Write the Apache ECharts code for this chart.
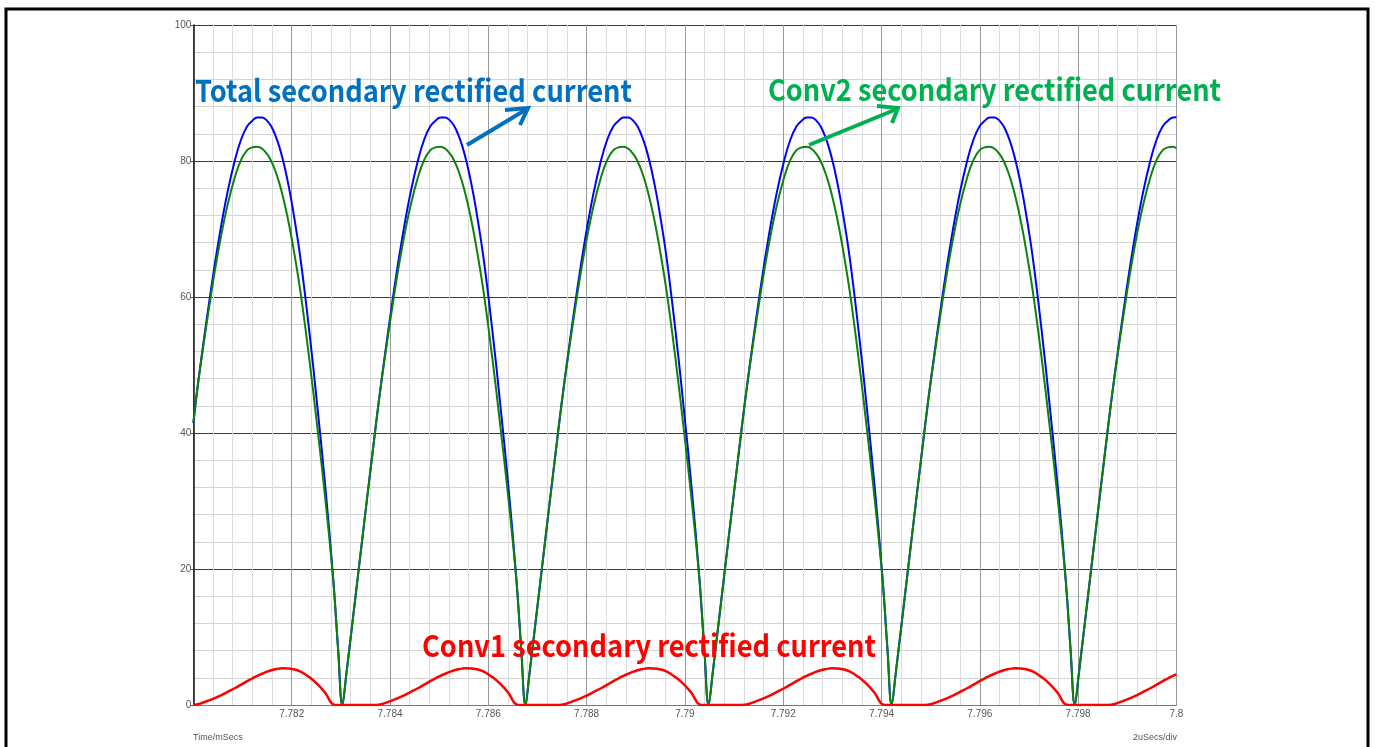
<!DOCTYPE html>
<html>
<head>
<meta charset="utf-8">
<script src="https://cdn.jsdelivr.net/npm/echarts@6/dist/echarts.min.js"></script>
<style>
html,body{margin:0;padding:0;background:#fff;}
#chart{width:1375px;height:747px;}
</style>
</head>
<body>
<div id="chart"></div>
<script>
// Time axis (ms)
const timeMs = [
  7.780000,
  7.780118, 7.780362, 7.780525, 7.780688, 7.780850, 7.780972, 7.781094, 7.781196, 7.781298, 7.781400, 7.781501, 7.781583, 7.781664, 7.781746, 7.781827, 7.781908, 7.782010, 7.782173, 7.782356, 7.782519, 7.782681, 7.782844, 7.782946,
  7.783030, 7.783111, 7.783356, 7.783701, 7.783844, 7.784088, 7.784251, 7.784414, 7.784576, 7.784698, 7.784820, 7.784922, 7.785024, 7.785126, 7.785227, 7.785309, 7.785390, 7.785472, 7.785553, 7.785634, 7.785736, 7.785899, 7.786082, 7.786245, 7.786407, 7.786570, 7.786672,
  7.786755, 7.786836, 7.787081, 7.787426, 7.787569, 7.787813, 7.787976, 7.788139, 7.788301, 7.788423, 7.788545, 7.788647, 7.788749, 7.788851, 7.788952, 7.789034, 7.789115, 7.789197, 7.789278, 7.789359, 7.789461, 7.789624, 7.789807, 7.789970, 7.790132, 7.790295, 7.790397,
  7.790481, 7.790562, 7.790807, 7.791152, 7.791295, 7.791539, 7.791702, 7.791865, 7.792027, 7.792149, 7.792271, 7.792373, 7.792475, 7.792577, 7.792678, 7.792760, 7.792841, 7.792923, 7.793004, 7.793085, 7.793187, 7.793350, 7.793533, 7.793696, 7.793858, 7.794021, 7.794123,
  7.794206, 7.794287, 7.794532, 7.794877, 7.795020, 7.795264, 7.795427, 7.795590, 7.795752, 7.795874, 7.795996, 7.796098, 7.796200, 7.796302, 7.796403, 7.796485, 7.796566, 7.796648, 7.796729, 7.796810, 7.796912, 7.797075, 7.797258, 7.797421, 7.797583, 7.797746, 7.797848,
  7.797932, 7.798013, 7.798258, 7.798603, 7.798746, 7.798990, 7.799153, 7.799316, 7.799478, 7.799600, 7.799722, 7.799824, 7.799926,
  7.800000
];
// Total secondary rectified current (blue)
const totalCurrent = [
  41.5,
  48.65, 61.3, 68.8, 75.2, 80.3, 83.2, 85.1, 85.9, 86.4, 86.4, 85.9, 85.1, 83.85, 82.15, 80, 77.4, 73.5, 65.95, 55.1, 44.1, 32.3, 18.6, 8,
  0, 4.5, 19.5, 40.5, 48.65, 61.3, 68.8, 75.2, 80.3, 83.2, 85.1, 85.9, 86.4, 86.4, 85.9, 85.1, 83.85, 82.15, 80, 77.4, 73.5, 65.95, 55.1, 44.1, 32.3, 18.6, 8,
  0, 4.5, 19.5, 40.5, 48.65, 61.3, 68.8, 75.2, 80.3, 83.2, 85.1, 85.9, 86.4, 86.4, 85.9, 85.1, 83.85, 82.15, 80, 77.4, 73.5, 65.95, 55.1, 44.1, 32.3, 18.6, 8,
  0, 4.5, 19.5, 40.5, 48.65, 61.3, 68.8, 75.2, 80.3, 83.2, 85.1, 85.9, 86.4, 86.4, 85.9, 85.1, 83.85, 82.15, 80, 77.4, 73.5, 65.95, 55.1, 44.1, 32.3, 18.6, 8,
  0, 4.5, 19.5, 40.5, 48.65, 61.3, 68.8, 75.2, 80.3, 83.2, 85.1, 85.9, 86.4, 86.4, 85.9, 85.1, 83.85, 82.15, 80, 77.4, 73.5, 65.95, 55.1, 44.1, 32.3, 18.6, 8,
  0, 4.5, 19.5, 40.5, 48.65, 61.3, 68.8, 75.2, 80.3, 83.2, 85.1, 85.9, 86.4,
  86.45
];
// Conv2 secondary rectified current (green)
const conv2Current = [
  41.5,
  48.5, 60.5, 67.5, 73.3, 77.8, 80.2, 81.6, 82.0, 82.1, 81.8, 81.0, 80.0, 78.6, 76.8, 74.6, 72.0, 68.2, 61, 51, 41, 30.5, 18.5, 8,
  0, 4.5, 19.5, 40.5, 48.5, 60.5, 67.5, 73.3, 77.8, 80.2, 81.6, 82.0, 82.1, 81.8, 81.0, 80.0, 78.6, 76.8, 74.6, 72.0, 68.2, 61, 51, 41, 30.5, 18.5, 8,
  0, 4.5, 19.5, 40.5, 48.5, 60.5, 67.5, 73.3, 77.8, 80.2, 81.6, 82.0, 82.1, 81.8, 81.0, 80.0, 78.6, 76.8, 74.6, 72.0, 68.2, 61, 51, 41, 30.5, 18.5, 8,
  0, 4.5, 19.5, 40.5, 48.5, 60.5, 67.5, 73.3, 77.8, 80.2, 81.6, 82.0, 82.1, 81.8, 81.0, 80.0, 78.6, 76.8, 74.6, 72.0, 68.2, 61, 51, 41, 30.5, 18.5, 8,
  0, 4.5, 19.5, 40.5, 48.5, 60.5, 67.5, 73.3, 77.8, 80.2, 81.6, 82.0, 82.1, 81.8, 81.0, 80.0, 78.6, 76.8, 74.6, 72.0, 68.2, 61, 51, 41, 30.5, 18.5, 8,
  0, 4.5, 19.5, 40.5, 48.5, 60.5, 67.5, 73.3, 77.8, 80.2, 81.6, 82.0, 82.1,
  81.9
];
// Conv1 secondary rectified current (red)
const conv1Current = [
  0,
  0.15, 0.8, 1.3, 1.9, 2.5, 3.0, 3.5, 3.9, 4.3, 4.6, 4.9, 5.1, 5.25, 5.35, 5.4, 5.38, 5.3, 4.95, 4.1, 3.1, 1.8, 0.1, 0,
  0, 0, 0, 0, 0.15, 0.8, 1.3, 1.9, 2.5, 3.0, 3.5, 3.9, 4.3, 4.6, 4.9, 5.1, 5.25, 5.35, 5.4, 5.38, 5.3, 4.95, 4.1, 3.1, 1.8, 0.1, 0,
  0, 0, 0, 0, 0.15, 0.8, 1.3, 1.9, 2.5, 3.0, 3.5, 3.9, 4.3, 4.6, 4.9, 5.1, 5.25, 5.35, 5.4, 5.38, 5.3, 4.95, 4.1, 3.1, 1.8, 0.1, 0,
  0, 0, 0, 0, 0.15, 0.8, 1.3, 1.9, 2.5, 3.0, 3.5, 3.9, 4.3, 4.6, 4.9, 5.1, 5.25, 5.35, 5.4, 5.38, 5.3, 4.95, 4.1, 3.1, 1.8, 0.1, 0,
  0, 0, 0, 0, 0.15, 0.8, 1.3, 1.9, 2.5, 3.0, 3.5, 3.9, 4.3, 4.6, 4.9, 5.1, 5.25, 5.35, 5.4, 5.38, 5.3, 4.95, 4.1, 3.1, 1.8, 0.1, 0,
  0, 0, 0, 0, 0.15, 0.8, 1.3, 1.9, 2.5, 3.0, 3.5, 3.9, 4.3,
  4.5
];
const yTicks = [0, 20, 40, 60, 80, 100];
const xTickLabels = ['7.782', '7.784', '7.786', '7.788', '7.79', '7.792', '7.794', '7.796', '7.798', '7.8'];

const labels = {
  total: 'Total secondary rectified current',
  conv2: 'Conv2 secondary rectified current',
  conv1: 'Conv1 secondary rectified current',
  xName: 'Time/mSecs',
  xDiv: '2uSecs/div'
};

function zip(xs, ys) { return xs.map((x, i) => [x, ys[i]]); }

const annFont = 'bold 30px "Noto Sans CJK SC", "Noto Sans", sans-serif';
const measureCtx = document.createElement('canvas').getContext('2d');
function fitScale(text, targetWidth) {
  measureCtx.font = annFont;
  const w = measureCtx.measureText(text).width;
  return w > 0 ? targetWidth / w : 1;
}

function annText(text, x, y, color, targetWidth) {
  return {
    type: 'text', x: x, y: y, scaleX: fitScale(text, targetWidth), z: 50,
    style: { text: text, fill: color, font: annFont, verticalAlign: 'middle', align: 'left' }
  };
}

const chart = echarts.init(document.getElementById('chart'));
const smallFont = '"Liberation Sans Narrow", "Liberation Sans", Arial, sans-serif';
const option = {
  animation: false,
  backgroundColor: '#fff',
  grid: { left: 193.4, right: 198.6, top: 25, bottom: 42, containLabel: false },
  xAxis: {
    type: 'value', min: 7.78, max: 7.8, interval: 0.002,
    axisLine: { show: true, onZero: false, lineStyle: { color: '#777', width: 1 } },
    axisTick: { show: false },
    axisLabel: {
      showMinLabel: false, margin: 4, color: '#555', fontSize: 10, fontFamily: smallFont,
      formatter: v => { const s = String(+v.toFixed(3)); return xTickLabels.indexOf(s) >= 0 ? s : ''; }
    },
    splitLine: { show: true, lineStyle: { color: '#9a9a9a', width: 1 } },
    minorTick: { show: true, splitNumber: 5, length: 0 },
    minorSplitLine: { show: true, lineStyle: { color: '#dcdcdc', width: 1 } }
  },
  yAxis: {
    type: 'value', min: 0, max: 100, interval: 20,
    axisLine: { show: true, lineStyle: { color: '#111', width: 1.5 } },
    axisTick: { show: true, length: 3, lineStyle: { color: '#555' } },
    axisLabel: {
      margin: 2, color: '#555', fontSize: 10, fontFamily: smallFont,
      formatter: v => yTicks.indexOf(Math.round(v)) >= 0 ? String(Math.round(v)) : ''
    },
    splitLine: { show: true, lineStyle: { color: '#3a3a3a', width: 1 } },
    minorTick: { show: true, splitNumber: 5, length: 0 },
    minorSplitLine: { show: true, lineStyle: { color: '#d4d4d4', width: 1 } }
  },
  series: [
    { name: 'Total', type: 'line', data: zip(timeMs, totalCurrent), showSymbol: false, smooth: 0.4,
      lineStyle: { color: '#0000ff', width: 2 }, z: 3 },
    { name: 'Conv2', type: 'line', data: zip(timeMs, conv2Current), showSymbol: false, smooth: 0.4,
      lineStyle: { color: '#0a830a', width: 2 }, z: 4 },
    { name: 'Conv1', type: 'line', data: zip(timeMs, conv1Current), showSymbol: false, smooth: 0.4,
      lineStyle: { color: '#ff0000', width: 2.5 }, z: 5 }
  ],
  graphic: [
    { type: 'rect', shape: { x: 6, y: 9, width: 1362, height: 745 }, style: { fill: 'none', stroke: '#000', lineWidth: 3 }, z: 100 },
    annText(labels.total, 195, 91, '#0070C0', 437),
    annText(labels.conv2, 768, 90, '#00B050', 453),
    annText(labels.conv1, 422, 646, '#FF0000', 454),
    { type: 'text', left: 193, top: 733, style: { text: labels.xName, fill: '#555', font: '9px ' + smallFont }, z: 50 },
    { type: 'text', right: 1375 - 1177, top: 733, style: { text: labels.xDiv, fill: '#555', font: '9px ' + smallFont }, z: 50 },
    { type: 'polyline', shape: { points: [[467, 145], [527, 109]] }, style: { stroke: '#0070C0', lineWidth: 4, fill: 'none' }, z: 50 },
    { type: 'polyline', shape: { points: [[505, 110], [528, 108], [520, 125]] }, style: { stroke: '#0070C0', lineWidth: 4, fill: 'none', lineJoin: 'miter' }, z: 50 },
    { type: 'polyline', shape: { points: [[809, 145], [897, 109]] }, style: { stroke: '#00B050', lineWidth: 4, fill: 'none' }, z: 50 },
    { type: 'polyline', shape: { points: [[877, 106], [898, 108], [892, 123]] }, style: { stroke: '#00B050', lineWidth: 4, fill: 'none', lineJoin: 'miter' }, z: 50 }
  ]
};
chart.setOption(option);
</script>
</body>
</html>
